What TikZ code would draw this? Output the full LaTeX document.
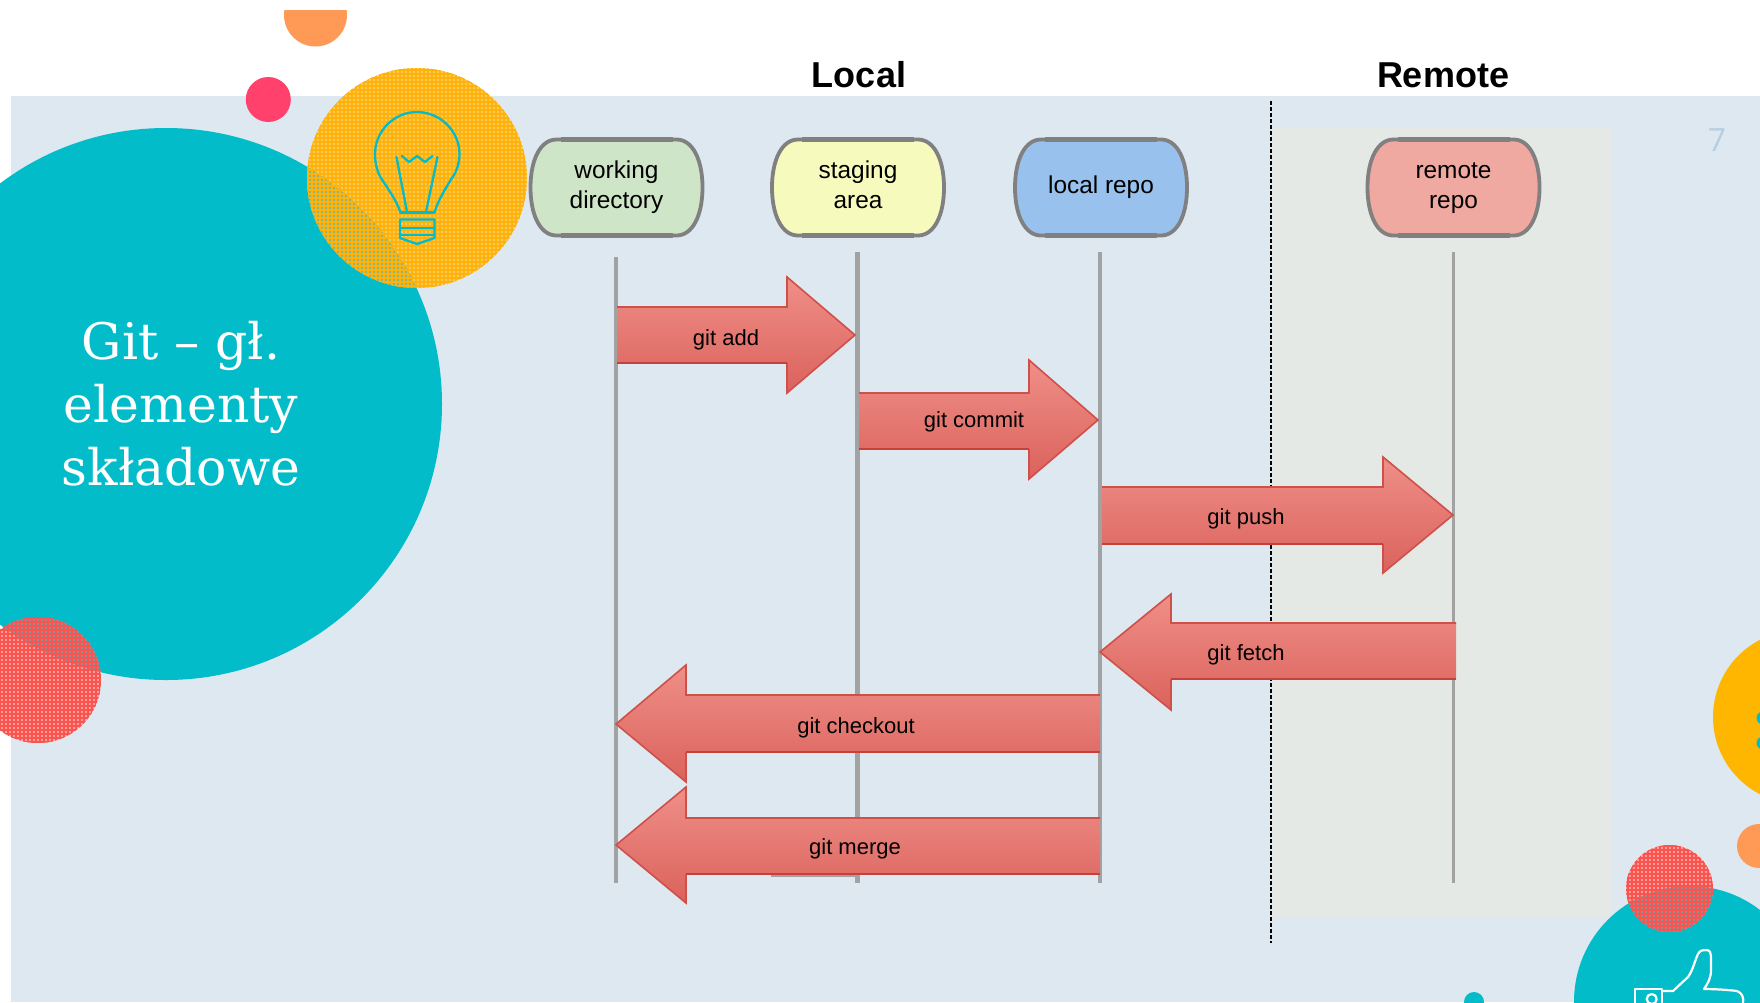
\documentclass[tikz,border=0pt]{standalone}
\usepackage{fontspec}
\setmainfont{Liberation Sans}
\newfontfamily\slabfont{DejaVu Serif}
\newfontfamily\thinfont{Open Sans}
\usetikzlibrary{patterns.meta}
\definecolor{bgblue}{HTML}{DEE8F1}
\definecolor{teal}{HTML}{02BCC9}
\definecolor{sun}{HTML}{FDB30C}
\definecolor{sunhole}{HTML}{FFC95A}
\definecolor{sunmix}{HTML}{8DB47E}
\definecolor{coral}{HTML}{FA5450}
\definecolor{coralhole}{HTML}{FF9E98}
\definecolor{coralmix}{HTML}{8E8F94}
\definecolor{peach}{HTML}{FF9A56}
\definecolor{pink}{HTML}{FF416C}
\definecolor{amber}{HTML}{FFB600}
\definecolor{panel}{HTML}{E4E9E5}
\definecolor{lifeline}{HTML}{A2A2A2}
\definecolor{boxborder}{HTML}{808080}
\definecolor{arrowtop}{HTML}{EF8F88}
\definecolor{arrowbot}{HTML}{DB625C}
\definecolor{arrowline}{HTML}{CF4F49}
\definecolor{arrowdark}{HTML}{C93F39}
\definecolor{pagegray}{HTML}{B7CFE0}
\definecolor{boxgreen}{HTML}{CFE5C8}
\definecolor{boxyellow}{HTML}{F6FBBD}
\definecolor{boxblue}{HTML}{99C1ED}
\definecolor{boxred}{HTML}{EFA9A0}
\tikzset{
  x=0.5pt,y=-0.5pt,
  boxtext/.style={align=center,inner sep=0pt,outer sep=0pt,minimum width=86pt,minimum height=49pt,
    font=\fontsize{12.2pt}{15pt}\selectfont,text=black},
  boxedge/.style={draw=boxborder,line width=1.9pt},
  boxflat/.style={draw=boxborder,line width=2.4pt},
  life/.style={draw=lifeline,line width=1.9pt},
  lifewide/.style={draw=lifeline,line width=2.5pt},
  blockfill/.style={top color=arrowtop,bottom color=arrowbot},
  blockedge/.style={draw=arrowline,line width=.8pt,line join=miter},
  blockbase/.style={draw=arrowdark,line width=1.4pt},
  arrowlabel/.style={font=\fontsize{11pt}{13pt}\selectfont,text=black,inner sep=0pt},
  heading/.style={font=\fontsize{18pt}{20pt}\bfseries\selectfont,text=black,inner sep=0pt},
  iconline/.style={draw=teal,line width=1.15pt,line join=round,line cap=round},
  thumbline/.style={draw=white,line width=1.1pt,line join=round},
}
% tail x, tip x, head-base x, head top, shaft top, mid, shaft bottom, head bottom
\newcommand{\blockarr}[8]{%
  \path[blockfill] (#1,#5) -- (#3,#5) -- (#3,#4) -- (#2,#6) -- (#3,#8) -- (#3,#7) -- (#1,#7) -- cycle;
  \draw[blockedge] (#1,#5) -- (#3,#5) -- (#3,#4) -- (#2,#6) -- (#3,#8) -- (#3,#7);
  \draw[blockbase] (#3,#7) -- (#1,#7);}
% centre x, y, r, hole colour, line colour
\newcommand{\textured}[5]{%
  \fill[#4] (#1,#2) circle[radius=#3];
  \fill[pattern={Lines[angle=0,distance=2pt,line width=.95pt]},pattern color=#5] (#1,#2) circle[radius=#3];
  \fill[pattern={Lines[angle=90,distance=2pt,line width=.95pt]},pattern color=#5] (#1,#2) circle[radius=#3];}
% centre x, y, fill, name, text
\newcommand{\tubbox}[5]{%
  \path[boxedge,fill=#3] (#1-60,#2-48) -- (#1+60,#2-48)
    .. controls (#1+76,#2-48) and (#1+86,#2-28) .. (#1+86,#2)
    .. controls (#1+86,#2+28) and (#1+76,#2+48) .. (#1+60,#2+48)
    -- (#1-60,#2+48)
    .. controls (#1-76,#2+48) and (#1-86,#2+28) .. (#1-86,#2)
    .. controls (#1-86,#2-28) and (#1-76,#2-48) .. (#1-60,#2-48) -- cycle;
  \draw[boxflat] (#1-56,#2-48) -- (#1+56,#2-48);
  \draw[boxflat] (#1-56,#2+48) -- (#1+56,#2+48);
  \node[boxtext] (#4) at (#1,#2) {#5};}
\begin{document}
\begin{tikzpicture}
\useasboundingbox (0,0) rectangle (1760,1002);
\clip (0,0) rectangle (1760,1002);
\fill[white] (0,0) rectangle (1760,1002);
\fill[bgblue] (11,96) rectangle (1760,1002);
% decoration
\begin{scope}
  \clip (0,10) rectangle (1760,100);
  \fill[peach] (315.5,15) circle[radius=31.5];
\end{scope}
\fill[pink] (268.3,99.5) circle[radius=22.5];
\fill[teal] (166,404) circle[radius=276];
\textured{417}{178}{110}{sunhole}{sun}
\begin{scope}
  \clip (166,404) circle[radius=276];
  \textured{417}{178}{110}{sunmix}{sun}
\end{scope}
\textured{38}{680}{63}{coralhole}{coral}
\begin{scope}
  \clip (166,404) circle[radius=276];
  \textured{38}{680}{63}{coralmix}{coral}
\end{scope}
% right side
\fill[amber] (1800,717) circle[radius=87];
\fill[teal] (1763,718) circle[radius=6.5];
\fill[teal] (1763,743) circle[radius=6.5];
\fill[peach] (1759,846) circle[radius=22];
\fill[teal] (1689.5,1001.5) circle[radius=115.5];
\textured{1669.5}{888.5}{43.5}{coralhole}{coral}
\begin{scope}
  \clip (1689.5,1001.5) circle[radius=115.5];
  \textured{1669.5}{888.5}{43.5}{coralmix}{coral}
\end{scope}
\fill[teal] (1474,1002) circle[radius=10];
% thumb icon
\draw[thumbline] (1635,1004) -- (1635,989) -- (1662,989) -- (1662,1004);
\draw[thumbline] (1651.7,999) circle[radius=5];
\draw[thumbline] (1662,991) -- (1673,991) -- (1688,977) .. controls (1693,970) and (1695,960) .. (1698,954)
  .. controls (1700,950) and (1703,950) .. (1706,950) .. controls (1710,950) and (1711,953) .. (1711,956)
  -- (1711,970) .. controls (1711,978) and (1708,983) .. (1704,989) .. controls (1715,989) and (1730,990) .. (1737,991)
  .. controls (1742,993) and (1744,997) .. (1743,1004);
% bulb icon
\draw[iconline] (400.5,212.5) .. controls (396.5,200) and (386,186) .. (381,178)
  .. controls (376,170) and (375,160) .. (375,154)
  .. controls (375,131) and (394,112) .. (417,112)
  .. controls (440,112) and (459.5,131) .. (459.5,154)
  .. controls (459.5,160) and (458,170) .. (452,178)
  .. controls (447,186) and (438,200) .. (434.5,212.5);
\draw[iconline] (400,212.5) -- (434.5,212.5);
\draw[iconline] (396.5,157) -- (407,212);
\draw[iconline] (437.5,157) -- (426,212);
\draw[iconline] (402,156) -- (409,162) -- (417,156) -- (425,162) -- (432.5,156);
\draw[iconline] (400,219.5) -- (434.5,219.5) -- (434.5,238) -- (417,244) -- (400,238) -- cycle;
\draw[iconline] (400,228) -- (434.5,228);
\draw[iconline] (400,235) -- (434.5,235);
% title
\node[text=white,font=\slabfont\fontsize{25.2pt}{31.5pt}\selectfont,align=center,inner sep=0pt] (title) at (181,404)
  {Git – gł.\\elementy\\składowe};
\node[text=pagegray,font=\thinfont\fontsize{16pt}{18pt}\selectfont,inner sep=0pt] (pagenum) at (1717,140) {7};
% panel and separator
\fill[panel] (1272,127) rectangle (1611,917);
\coordinate (sepT) at (1271,101);
\coordinate (sepB) at (1271,943);
\draw[black,line width=1pt,dash pattern=on 2pt off 1pt] (sepT) -- (sepB);
% headings
\node[heading] (local) at (859,75) {Local};
\node[heading] (remote) at (1443,75) {Remote};
% boxes
\tubbox{616.5}{187.5}{boxgreen}{wd}{\strut working\\\strut directory}
\tubbox{858}{187.5}{boxyellow}{sa}{\strut staging\\\strut area}
\tubbox{1101}{187.5}{boxblue}{lr}{local repo}
\tubbox{1453.5}{187.5}{boxred}{rr}{\strut remote\\\strut repo}
% lifelines
\coordinate (wdT) at (615.6,257); \coordinate (wdB) at (615.6,883);
\coordinate (saT) at (857,252);   \coordinate (saB) at (857,883);
\coordinate (lrT) at (1100,252);  \coordinate (lrB) at (1100,883);
\coordinate (rrT) at (1453.5,252);\coordinate (rrB) at (1453.5,883);
\draw[life] (wdT) -- (wdB);
\draw[lifewide] (saT) -- (saB);
\draw[life] (lrT) -- (lrB);
\draw[life] (rrT) -- (rrB);
\draw[draw=lifeline,line width=1pt] (771,875.5) -- (858,875.5);
% block arrows
\blockarr{617}{855}{787}{277}{307}{335}{363}{393}
\node[arrowlabel] (add) at (726,340) {git add};
\blockarr{859}{1098}{1029}{360}{393}{420}{449}{479}
\node[arrowlabel] (commit) at (974,422) {git commit};
\blockarr{1102}{1453}{1383}{457}{487}{515}{544}{573}
\node[arrowlabel] (push) at (1246,519) {git push};
\blockarr{1456}{1100}{1171}{594}{623}{652}{679}{710}
\node[arrowlabel] (fetch) at (1246,655) {git fetch};
\blockarr{1100}{616}{686}{665}{695}{724}{752}{782}
\node[arrowlabel] (checkout) at (856,728) {git checkout};
\blockarr{1100}{616}{686}{787}{818}{845}{874}{903}
\node[arrowlabel] (merge) at (855,849) {git merge};
\end{tikzpicture}
\end{document}
